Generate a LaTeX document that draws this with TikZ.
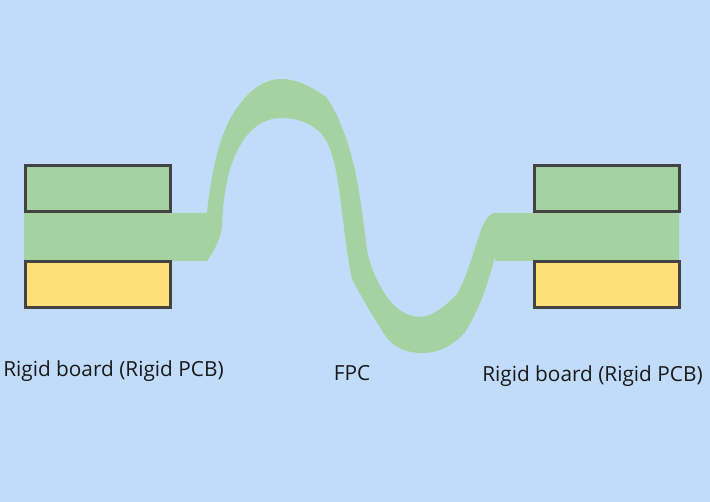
\documentclass[tikz,border=0pt]{standalone}
\usepackage{fontspec}
\setmainfont{Open Sans}
\definecolor{bgblue}{HTML}{C0DCF9}
\definecolor{fpcgreen}{HTML}{A5D2A1}
\definecolor{boardyellow}{HTML}{FDE077}
\definecolor{edge}{HTML}{434343}
\newlength{\unitpx}
\setlength{\unitpx}{0.75pt}
\tikzset{
  board/.style={draw=edge,line width=3\unitpx,line join=miter},
  lbl/.style={inner sep=0pt,text=black!90,font=\fontsize{15.6pt}{18pt}\selectfont}
}
\begin{document}
\begin{tikzpicture}[x=0.75pt,y=-0.75pt]
\useasboundingbox (0,0) rectangle (710,502);
\fill[bgblue] (0,0) rectangle (710,502);
% FPC band
\fill[fpcgreen] (24,213) -- (207,213)
  .. controls (212,165) and (222,125) .. (240,104)
  .. controls (252,88) and (266,79) .. (281,79)
  .. controls (297,79) and (312,87) .. (326,97)
  .. controls (340,116) and (349,145) .. (355,170)
  .. controls (360,195) and (364,225) .. (367,250)
  .. controls (371,270) and (378,283) .. (385,294)
  .. controls (394,309) and (408,317) .. (420,317)
  .. controls (432,317) and (446,306) .. (457,294)
  .. controls (467,277) and (474,250) .. (481,230)
  .. controls (484,222) and (488,215) .. (494,213)
  -- (679,213) -- (679,261) -- (495,261) -- (495,256)
  .. controls (488,285) and (478,312) .. (465,332)
  .. controls (453,346) and (438,353) .. (423,353)
  .. controls (408,353) and (396,349) .. (387,338)
  .. controls (376,322) and (362,298) .. (352,279)
  .. controls (348,262) and (345,235) .. (342,212)
  .. controls (339,188) and (336,160) .. (327,142)
  .. controls (319,126) and (300,118) .. (281,118)
  .. controls (265,118) and (250,128) .. (241,144)
  .. controls (228,165) and (223,195) .. (222,227)
  .. controls (220,240) and (214,251) .. (207,261)
  -- (24,261) -- cycle;
% Rigid boards
\draw[board,fill=fpcgreen] (25,166) rectangle (170,212);
\draw[board,fill=boardyellow] (25,262) rectangle (170,307);
\draw[board,fill=fpcgreen] (534,166) rectangle (679,212);
\draw[board,fill=boardyellow] (534,262) rectangle (679,307);
% Labels
\node[lbl,anchor=base west] (left) at (3,376) {Rigid board (Rigid PCB)};
\node[lbl,anchor=base] (mid) at (352,380) {FPC};
\node[lbl,anchor=base west] (right) at (482,381) {Rigid board (Rigid PCB)};
\end{tikzpicture}
\end{document}
